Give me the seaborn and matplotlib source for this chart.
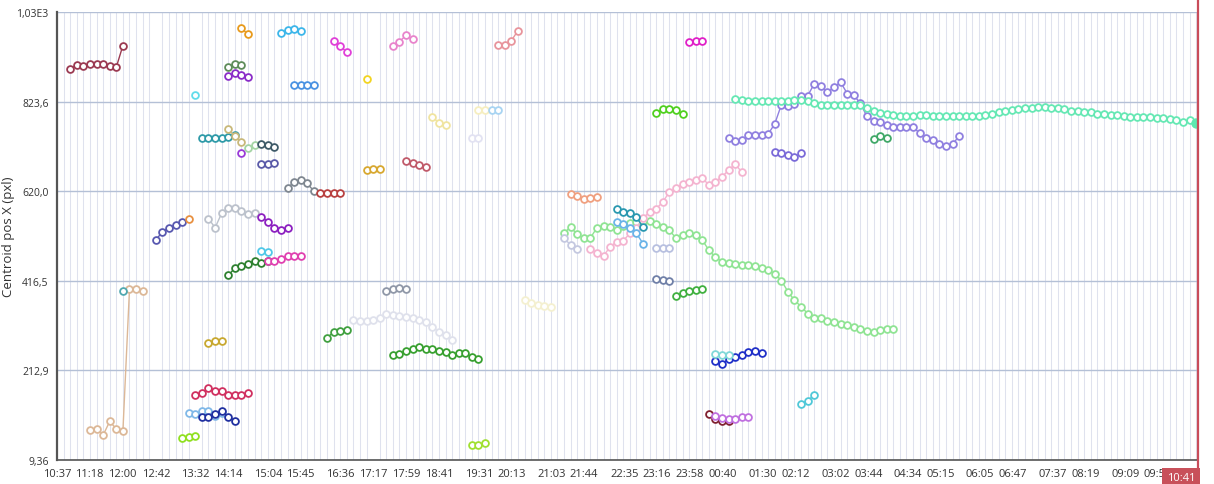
import pandas as pd
import seaborn as sns
import matplotlib.pyplot as plt

# one centroid reading every 8 min 20 s
SAMPLE_MIN = 25 / 3
DAY_START = "10:37"
NOW = "10:41"  # next morning, end of the 24 h window

# each track: clock time of its first reading, then the readings (pxl)
maroon_start, maroon_y = "10:53:40", [898, 907, 904, 908, 910, 910, 905, 902, 951]
tan_start, tan_y = "11:18:40", [78, 80, 66, 97, 80, 75, 397, 397, 394]
teal_dot_start, teal_dot_y = "12:00:20", [394]
slate_a_start, slate_a_y = "12:42:00", [509, 528, 537, 543, 549]
lime_a_start, lime_a_y = "13:15:20", [59, 61, 63]
orange_dot_start, orange_dot_y = "13:23:40", [557]
ltblue_a_start, ltblue_a_y = "13:23:40", [116, 113, 120, 120, 109, 116]
cyan_dot_start, cyan_dot_y = "13:32:00", [839]
crimson_start, crimson_y = "13:32:00", [156, 162, 173, 167, 166, 156, 158, 158, 162]
teal_start, teal_y = "13:40:20", [741, 741, 741, 741, 743, 747]
navy_a_start, navy_a_y = "13:40:20", [107, 107, 113, 120, 107, 99]
silver_start, silver_y = "13:48:40", [558, 537, 570, 583, 583, 575, 568, 570]
gold_a_start, gold_a_y = "13:48:40", [276, 279, 280]
olive_start, olive_y = "14:13:40", [902, 910, 907]
violet_a_start, violet_a_y = "14:13:40", [882, 888, 883, 880]
khaki_start, khaki_y = "14:13:40", [761, 745, 731]
forest_start, forest_y = "14:13:40", [429, 445, 451, 454, 462, 458, 462]
amber_start, amber_y = "14:30:20", [990, 977]
violet_dot_start, violet_dot_y = "14:30:20", [706]
sage_start, sage_y = "14:38:40", [718, 725]
slate_b_start, slate_b_y = "14:55:20", [728, 726, 720]
indigo_start, indigo_y = "14:55:20", [681, 682, 684]
violet_b_start, violet_b_y = "14:55:20", [562, 551, 537, 533, 537]
aqua_pair_start, aqua_pair_y = "14:55:20", [484, 481]
pink_a_start, pink_a_y = "15:03:40", [462, 462, 465, 473, 473, 473]
sky_start, sky_y = "15:20:20", [980, 986, 988, 984]
grey_start, grey_y = "15:28:40", [627, 641, 646, 638, 620]
azure_start, azure_y = "15:37:00", [862, 862, 862, 862]
brick_start, brick_y = "16:10:20", [615, 615, 615, 615]
green_a_start, green_a_y = "16:18:40", [287, 300, 303, 304]
fuchsia_a_start, fuchsia_a_y = "16:27:00", [962, 950, 936]
mist_start, mist_y = "16:52:00", [327, 325, 325, 328, 331, 342, 338, 337, 334, 331, 328, 324, 312, 300, 294, 283]
yellow_dot_start, yellow_dot_y = "17:08:40", [876]
gold_b_start, gold_b_y = "17:08:40", [669, 671, 671]
steel_start, steel_y = "17:33:40", [394, 397, 399, 397]
orchid_a_start, orchid_a_y = "17:42:00", [949, 960, 974, 965]
green_b_start, green_b_y = "17:42:00", [249, 251, 257, 261, 266, 261, 261, 257, 255, 249, 253, 252, 243, 239]
rose_start, rose_y = "17:58:40", [688, 683, 680, 675]
cream_a_start, cream_a_y = "18:32:00", [788, 776, 770]
ghost_start, ghost_y = "19:22:00", [741, 741]
lime_b_start, lime_b_y = "19:22:00", [44, 44, 47]
cream_b_start, cream_b_y = "19:30:20", [804, 804]
ice_start, ice_y = "19:47:00", [805, 805]
blush_start, blush_y = "19:55:20", [952, 953, 962, 985]
cream_c_start, cream_c_y = "20:28:40", [372, 365, 362, 360, 358]
mint_start, mint_y = "21:18:40", [526, 538, 522, 513, 514, 537, 541, 539, 533, 541, 547, 551, 553,
                                  553, 545, 538, 532, 513, 520, 524, 520, 509, 486, 470, 460, 456,
                                  454, 452, 452, 449, 445, 440, 433, 417, 392, 372, 358, 342, 331,
                                  333, 326, 323, 319, 317, 312, 307, 302, 301, 304, 308, 308]
lavender_a_start, lavender_a_y = "21:18:40", [513, 498, 488]
peach_start, peach_y = "21:27:00", [614, 610, 602, 604, 606]
rosepink_start, rosepink_y = "21:52:00", [488, 480, 473, 494, 505, 508, 524, 536, 560, 572, 580, 596,
                                          618, 627, 636, 642, 646, 650, 634, 642, 653, 668, 682, 663]
cyan_dark_start, cyan_dark_y = "22:25:20", [579, 573, 571, 561, 538]
ltblue_b_start, ltblue_b_y = "22:25:20", [551, 545, 537, 524, 501]
chartreuse_start, chartreuse_y = "23:15:20", [797, 807, 807, 804, 796]
lavender_b_start, lavender_b_y = "23:15:20", [492, 492, 490]
slategrey_start, slategrey_y = "23:15:20", [420, 418, 416]
green_c_start, green_c_y = "23:40:20", [382, 388, 393, 395, 397]
fuchsia_b_start, fuchsia_b_y = "23:57:00", [959, 962, 962]
wine_start, wine_y = "00:22:00", [113, 103, 99, 99]
navy_b_start, navy_b_y = "00:30:20", [234, 228, 239, 243, 247, 255, 256, 252]
ltcyan_start, ltcyan_y = "00:30:20", [251, 249, 249]
orchid_b_start, orchid_b_y = "00:30:20", [109, 104, 103, 103, 108, 108]
purple_start, purple_y = "00:47:00", [742, 733, 737, 747, 748, 748, 750, 773, 816, 813, 818, 836,
                                      837, 864, 858, 845, 856, 868, 842, 838, 820, 790, 780, 777,
                                      771, 765, 767, 766, 766, 752, 742, 737, 728, 722, 727, 745]
aqua_start, aqua_y = "00:55:20", [829, 827, 826, 825, 824, 824, 824, 825, 826, 827, 828, 825, 820,
                                  816, 815, 815, 815, 815, 815, 815, 809, 802, 798, 795, 794, 792,
                                  792, 792, 793, 793, 792, 791, 791, 790, 790, 790, 790, 791, 793,
                                  795, 799, 802, 804, 807, 808, 808, 811, 812, 810, 808, 806, 803,
                                  802, 801, 799, 796, 795, 794, 793, 792, 789, 788, 788, 788, 787,
                                  786, 784, 782, 777, 781, 776]
iris_start, iris_y = "01:45:20", [710, 706, 703, 698, 706]
cyan_b_start, cyan_b_y = "02:18:40", [137, 144, 157]
seagreen_start, seagreen_y = "03:50:20", [739, 745, 741]

tick_labels = ["10:37", "11:18", "12:00", "12:42", "13:32", "14:14", "15:04", "15:45",
               "16:36", "17:17", "17:59", "18:41", "19:31", "20:13", "21:03", "21:44",
               "22:35", "23:16", "23:58", "00:40", "01:30", "02:12", "03:02", "03:44",
               "04:34", "05:15", "06:05", "06:47", "07:37", "08:19", "09:09", "09:50"]
y_ticks = [9.36, 212.9, 416.5, 620.0, 823.6, 1027.2]
y_tick_labels = ["9,36", "212,9", "416,5", "620,0", "823,6", "1,03E3"]

tracks = [
    (maroon_start, maroon_y, "#9b3a52"), (tan_start, tan_y, "#dcb898"),
    (teal_dot_start, teal_dot_y, "#50a8b0"), (slate_a_start, slate_a_y, "#5858b0"),
    (lime_a_start, lime_a_y, "#90e020"), (orange_dot_start, orange_dot_y, "#e89040"),
    (ltblue_a_start, ltblue_a_y, "#80b8e8"), (cyan_dot_start, cyan_dot_y, "#62dcea"),
    (crimson_start, crimson_y, "#d03060"), (teal_start, teal_y, "#2e9aa8"),
    (navy_a_start, navy_a_y, "#2030a0"), (silver_start, silver_y, "#bcc2cc"),
    (gold_a_start, gold_a_y, "#c8a830"), (olive_start, olive_y, "#5e8c5a"),
    (violet_a_start, violet_a_y, "#8a2cc8"), (khaki_start, khaki_y, "#c8b87a"),
    (forest_start, forest_y, "#2e8030"), (amber_start, amber_y, "#e89a1c"),
    (violet_dot_start, violet_dot_y, "#9a3ad8"), (sage_start, sage_y, "#a4d4a4"),
    (slate_b_start, slate_b_y, "#3e5a68"), (indigo_start, indigo_y, "#5a5aa8"),
    (violet_b_start, violet_b_y, "#8c20c0"), (aqua_pair_start, aqua_pair_y, "#50c8e8"),
    (pink_a_start, pink_a_y, "#e040b0"), (sky_start, sky_y, "#3cb6ea"),
    (grey_start, grey_y, "#7f8790"), (azure_start, azure_y, "#4a92e2"),
    (brick_start, brick_y, "#b84040"), (green_a_start, green_a_y, "#40a040"),
    (fuchsia_a_start, fuchsia_a_y, "#e040d8"), (mist_start, mist_y, "#dfe1ec"),
    (yellow_dot_start, yellow_dot_y, "#f2d422"), (gold_b_start, gold_b_y, "#d8a830"),
    (steel_start, steel_y, "#9098a8"), (orchid_a_start, orchid_a_y, "#e884cc"),
    (green_b_start, green_b_y, "#38a030"), (rose_start, rose_y, "#c05a6a"),
    (cream_a_start, cream_a_y, "#f0e4a0"), (ghost_start, ghost_y, "#e2e2f2"),
    (lime_b_start, lime_b_y, "#a0e030"), (cream_b_start, cream_b_y, "#f6eec0"),
    (ice_start, ice_y, "#a8d4f2"), (blush_start, blush_y, "#e8949c"),
    (cream_c_start, cream_c_y, "#f4f0d0"), (mint_start, mint_y, "#90e494"),
    (lavender_a_start, lavender_a_y, "#c4c8e0"), (peach_start, peach_y, "#f0a080"),
    (rosepink_start, rosepink_y, "#f4b4d0"), (cyan_dark_start, cyan_dark_y, "#2a98b0"),
    (ltblue_b_start, ltblue_b_y, "#6ab4e8"), (chartreuse_start, chartreuse_y, "#50d020"),
    (lavender_b_start, lavender_b_y, "#b8c0e0"), (slategrey_start, slategrey_y, "#7080a8"),
    (green_c_start, green_c_y, "#40b040"), (fuchsia_b_start, fuchsia_b_y, "#e020c8"),
    (wine_start, wine_y, "#802030"), (navy_b_start, navy_b_y, "#2030c8"),
    (ltcyan_start, ltcyan_y, "#80d8d8"), (orchid_b_start, orchid_b_y, "#c070e0"),
    (purple_start, purple_y, "#9080e0"), (aqua_start, aqua_y, "#66e8b4"),
    (iris_start, iris_y, "#7a6ad8"), (cyan_b_start, cyan_b_y, "#50c8d8"),
    (seagreen_start, seagreen_y, "#40a868"),
]


def minutes_since_start(clock):
    # minutes after 10:37 of the first day, wrapping past midnight
    parts = [int(p) for p in clock.split(":")]
    h, m = parts[0], parts[1]
    s = parts[2] if len(parts) > 2 else 0
    h0, m0 = (int(p) for p in DAY_START.split(":"))
    mins = h * 60 + m + s / 60 - (h0 * 60 + m0)
    return mins + 1440 if mins < 0 else mins


rows = []
palette = {}
for n, (start, values, color) in enumerate(tracks):
    name = f"track{n:02d}"
    t0 = minutes_since_start(start)
    palette[name] = color
    for k, v in enumerate(values):
        rows.append({"track": name, "t": float(t0 + k * SAMPLE_MIN), "v": float(v)})
df = pd.DataFrame(rows)

sns.set_style("white")
plt.rcParams["font.family"] = ["Open Sans", "DejaVu Sans"]

fig = plt.figure(figsize=(12.14, 4.85), dpi=100)
ax = fig.add_axes([0.047, 0.0495, 0.9398, 0.9237])

sns.lineplot(data=df, x="t", y="v", hue="track", palette=palette, estimator=None,
             sort=False, legend=False, marker="o", markersize=4.9, linewidth=1.0, ax=ax)
for line in ax.get_lines():
    line.set_markeredgecolor(line.get_color())
    line.set_markerfacecolor("white")
    line.set_markeredgewidth(1.3)

# live point of the running track
last = df[df["track"] == f"track{len(tracks) - 4:02d}"].iloc[-1]
ax.plot(last["t"], last["v"], "o", color="#5ee8b0", ms=6.5, zorder=5)

t_end = minutes_since_start(NOW) + 1440
n_steps = int(t_end // SAMPLE_MIN)
ax.set_xticks([k * SAMPLE_MIN for k in range(n_steps + 1)], minor=True)
ax.set_xticks([minutes_since_start(lbl) for lbl in tick_labels])
ax.set_xticklabels(tick_labels)
ax.set_yticks(y_ticks)
ax.set_yticklabels(y_tick_labels)
ax.set_xlim(0, t_end)
ax.set_ylim(y_ticks[0], y_ticks[-1])

ax.grid(axis="x", which="minor", color="#dfe2ee", lw=0.75)
ax.grid(axis="y", which="major", color="#b4c0d6", lw=1.0)
ax.set_axisbelow(True)

ax.axvline(t_end, color="#c94c5a", lw=1.6, ymin=-0.03, ymax=1.03, clip_on=False, zorder=6)
ax.annotate(NOW, xy=(t_end, 0), xycoords=("data", "axes fraction"),
            xytext=(-2, -9), textcoords="offset points", ha="right", va="top",
            color="white", fontsize=8,
            bbox=dict(boxstyle="square,pad=0.4", fc="#c8505a", ec="none"), zorder=7)

for side in ("top", "right"):
    ax.spines[side].set_visible(False)
ax.spines["left"].set_color("#555555")
ax.spines["left"].set_linewidth(1.6)
ax.spines["bottom"].set_color("#555555")
ax.spines["bottom"].set_linewidth(1.2)

ax.tick_params(axis="x", which="both", direction="out", length=4, width=0.9,
               color="#555555", labelsize=8, labelcolor="#333333", pad=2)
ax.tick_params(axis="y", which="major", direction="out", length=4, width=0.9,
               color="#555555", labelsize=7.5, labelcolor="#333333", pad=2)
ax.set_xlabel("")
ax.set_ylabel("Centroid pos X (pxl)", fontsize=9.5, color="#333333")
ax.yaxis.set_label_coords(-0.037, 0.5)

fig.savefig("out.png", dpi=100)
